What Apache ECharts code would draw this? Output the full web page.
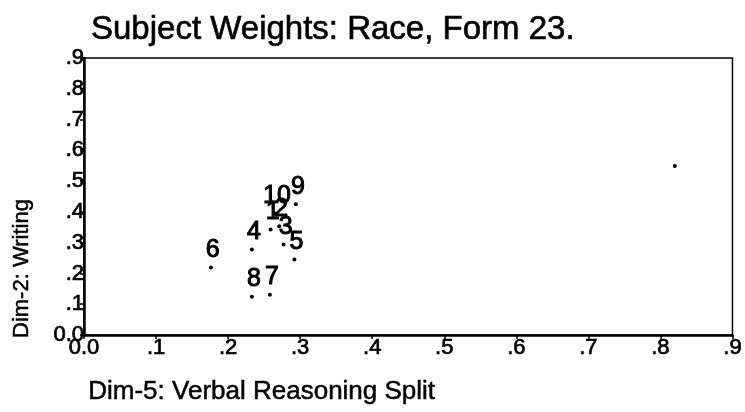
<!DOCTYPE html>
<html>
<head>
<meta charset="utf-8">
<script src="https://cdn.jsdelivr.net/npm/echarts@6/dist/echarts.min.js"></script>
<style>html,body{margin:0;padding:0;background:#fff}#c{width:745px;height:412px}</style>
</head>
<body>
<div id="c"></div>
<script>
var subjectLabels = ['1','2','3','4','5','6','7','8','9','10',''];
var dim5Values = [0.259, 0.271, 0.277, 0.233, 0.292, 0.176, 0.258, 0.233, 0.294, 0.265, 0.820];
var dim2Values = [0.343, 0.353, 0.294, 0.278, 0.245, 0.219, 0.131, 0.124, 0.425, 0.395, 0.549];
var xTickLabels = ['0.0','.1','.2','.3','.4','.5','.6','.7','.8','.9'];
var yTickLabels = ['0.0','.1','.2','.3','.4','.5','.6','.7','.8','.9'];
var titleText = 'Subject Weights: Race, Form 23.';
var xName = 'Dim-5: Verbal Reasoning Split';
var yName = 'Dim-2: Writing';

var FONT = 'Liberation Sans, Arial, sans-serif';
var pts = dim5Values.map(function (x, i) { return { value: [x, dim2Values[i]], name: subjectLabels[i] }; });
function tick(arr) { return function (v) { return arr[Math.round(v * 10)] || ''; }; }

var chart = echarts.init(document.getElementById('c'), null, { renderer: 'canvas' });
chart.setOption({
  backgroundColor: '#fff',
  animation: false,
  title: { text: titleText, left: 86, top: 8,
    textStyle: { fontFamily: FONT, fontSize: 33, fontWeight: 'normal', color: '#000',
      textBorderColor: '#000', textBorderWidth: 0.6 } },
  grid: { left: 84, right: 8, top: 58, bottom: 77, show: true, borderColor: '#000', borderWidth: 1.5 },
  xAxis: { type: 'value', min: 0, max: 0.9, interval: 0.1,
    axisLine: { show: true, lineStyle: { color: '#000', width: 2.5 } },
    axisTick: { show: true, length: 4, lineStyle: { color: '#000', width: 1.5 } },
    axisLabel: { formatter: tick(xTickLabels), margin: 2, color: '#000', fontFamily: FONT, fontSize: 22,
      textBorderColor: '#000', textBorderWidth: 0.7 },
    splitLine: { show: false } },
  yAxis: { type: 'value', min: 0, max: 0.9, interval: 0.1,
    axisLine: { show: true, lineStyle: { color: '#000', width: 2.5 } },
    axisTick: { show: true, length: 4, lineStyle: { color: '#000', width: 1.5 } },
    axisLabel: { formatter: tick(yTickLabels), margin: 0, color: '#000', fontFamily: FONT, fontSize: 22,
      textBorderColor: '#000', textBorderWidth: 0.7 },
    splitLine: { show: false } },
  graphic: [
    { type: 'text', left: 88, top: 379, style: { text: xName, fontFamily: FONT, fontSize: 26, fill: '#000',
      stroke: '#000', lineWidth: 0.5 } },
    { type: 'text', x: 11, y: 338, rotation: Math.PI / 2, style: { text: yName, fontFamily: FONT, fontSize: 22, fill: '#000',
      stroke: '#000', lineWidth: 0.5 } }
  ],
  series: [{
    type: 'scatter', data: pts, symbol: 'circle', symbolSize: 4,
    itemStyle: { color: '#000', opacity: 1 },
    label: { show: true, position: 'top', distance: 3, offset: [2, 0], formatter: '{b}',
      color: '#000', opacity: 1, fontFamily: FONT, fontSize: 25, textBorderColor: '#000', textBorderWidth: 1 }
  }]
});
</script>
</body>
</html>
